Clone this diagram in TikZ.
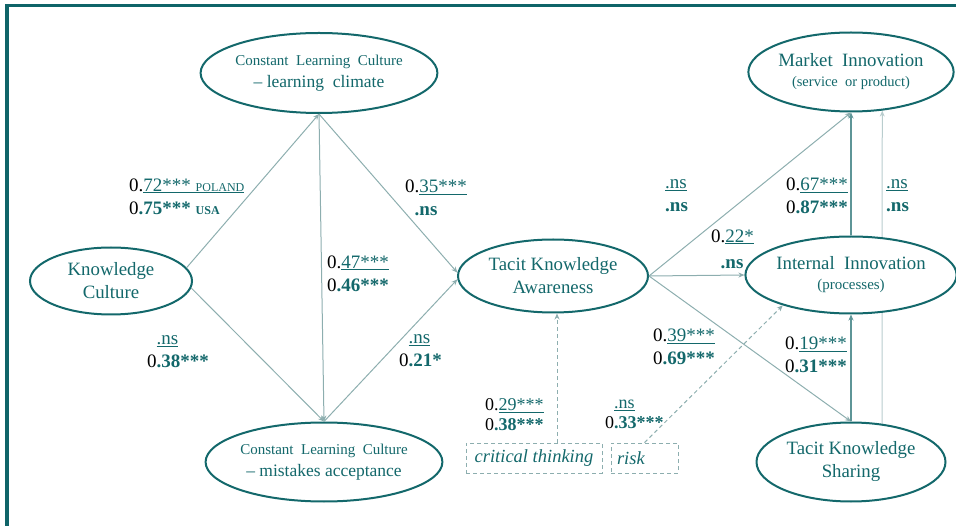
\documentclass[tikz,border=0pt]{standalone}
\usepackage{fontspec}
\setmainfont{Liberation Serif}
\usetikzlibrary{arrows.meta,shapes.geometric,calc,backgrounds}
\definecolor{tl}{HTML}{13686B}
\definecolor{fr}{HTML}{0F6468}
\definecolor{ar}{HTML}{8DAEAF}
\definecolor{ard}{HTML}{5E9597}
\definecolor{arl}{HTML}{B9CDCE}
\newcommand\zr{{\color{black}0}}
\newcommand\ul[1]{{\color{tl}\underline{#1}}}
\newcommand\bd[1]{{\color{tl}\bfseries #1}}
\newcommand\smallfs{\fontsize{12}{12}\selectfont}
\begin{document}
\begin{tikzpicture}[x=1pt,y=-1pt,
  ell/.style={ellipse,draw=tl,line width=2,fill=white,text=tl,inner sep=0,align=center,
    font=\fontsize{18.8}{22}\selectfont},
  arr/.style={draw=ar,line width=1,-{Stealth[length=6,width=5]}},
  arrd/.style={draw=ard,line width=1.1,-{Stealth[length=6,width=5]}},
  arrl/.style={draw=arl,line width=1,-{Stealth[length=6,width=5]}},
  darr/.style={draw=ar,line width=1,dash pattern=on 4 off 3,-{Stealth[length=6,width=5]}},
  dbox/.style={draw=ar,line width=0.9,dash pattern=on 4 off 3,text=tl,inner sep=0,
    font=\fontsize{18.5}{22}\selectfont\itshape,minimum height=30},
  lab/.style={anchor=west,inner sep=0,align=left,font=\fontsize{19}{23}\selectfont},
  labs/.style={anchor=west,inner sep=0,align=left,font=\fontsize{18}{20}\selectfont}]
\useasboundingbox (0,0) rectangle (956,526);
% frame
\draw[fr,line width=3.4] (6.8,526) -- (6.8,5.6) -- (956,5.6);

% ellipses
\node[ell,minimum width=186,minimum height=80] (LC) at (319,73)
  {{\fontsize{15}{20}\selectfont Constant\ \ Learning\ \ Culture}\\[0pt]{\fontsize{17.5}{20}\selectfont -- learning\ \ climate}};
\node[ell,minimum width=162,minimum height=67] (KC) at (111,281) {Knowledge\\[1pt]Culture};
\node[ell,minimum width=188,minimum height=79] (MA) at (324,462)
  {{\fontsize{15}{20}\selectfont Constant\ \ Learning\ \ Culture}\\[0pt]{\fontsize{17.5}{20}\selectfont -- mistakes acceptance}};
\node[ell,minimum width=190,minimum height=73] (TKA) at (553,276) {Tacit Knowledge\\[1pt]Awareness};
\node[ell,minimum width=189,minimum height=79] (MI) at (851,72)
  {Market\ \ Innovation\\[-2pt]{\fontsize{14.5}{18}\selectfont (service\ \ or product)}};
\node[ell,minimum width=189,minimum height=77] (II) at (851,275)
  {Internal\ \ Innovation\\[-2pt]{\fontsize{15}{18}\selectfont (processes)}};
\node[ell,minimum width=189,minimum height=79] (TKS) at (851,462) {Tacit Knowledge\\[1pt]Sharing};

% dashed boxes
\node[dbox,minimum width=136] (ct) at (534,458) {critical thinking};
\node[dbox,minimum width=67,text width=55,align=left] (rk) at (644.5,458) {risk};

% connectors
\draw[arr] (KC.10) -- (LC.south);
\draw[arr] (KC.-5) -- (MA.north);
\draw[arr] (LC.south) -- (MA.north);
\draw[arr] (LC.south) -- (TKA.178);
\draw[arr] (MA.north) -- (TKA.182);
\draw[arr] (TKA.east) -- (MI.south);
\draw[arr] (TKA.east) -- (II.west);
\draw[arr] (TKA.east) -- (TKS.north);
\draw[arrd] (II.north) -- (MI.south);
\draw[arrd] (TKS.north) -- (II.south);
\begin{pgfonlayer}{background}
\draw[arrl] (TKS.51.3) -- (MI.-51.3);
\end{pgfonlayer}
\coordinate (ctTop) at ($(ct.north)+(23,0)$);
\draw[darr] (ctTop) -- (ctTop |- TKA.south);
\draw[darr] (rk.north) -- (II.204);

% labels
\node[lab] (l1) at (129,196.5) {\zr.\ul{72*** {\smallfs POLAND}}\\\zr\bd{.75***} {\color{tl}\bfseries\smallfs USA}};
\node[lab] (l2) at (405,197.5) {\zr.\ul{35***}\\\phantom{0}\bd{.ns}};
\node[lab] (l3) at (327,273.5) {\zr.\ul{47***}\\\zr\bd{.46***}};
\node[lab] (l4) at (147,350) {\phantom{0}\ul{.ns}\\\zr\bd{.38***}};
\node[lab] (l5) at (399,349) {\phantom{0}\ul{.ns}\\\zr\bd{.21*}};
\node[lab] (l6) at (665,195.5) {\ul{.ns}\\\bd{.ns}};
\node[lab,font=\fontsize{19}{26}\selectfont] (l7) at (711,249) {\zr.\ul{22*}\\\phantom{0}\bd{.ns}};
\node[lab] (l8) at (786,195.5) {\zr.\ul{67***}\\\zr\bd{.87***}};
\node[lab] (l9) at (886,195.5) {\ul{.ns}\\\bd{.ns}};
\node[lab] (l10) at (653,346.5) {\zr.\ul{39***}\\\zr\bd{.69***}};
\node[lab] (l11) at (785,354.5) {\zr.\ul{19***}\\\zr\bd{.31***}};
\node[labs] (l12) at (485,415) {\zr.\ul{29***}\\\zr\bd{.38***}};
\node[labs] (l13) at (605,413) {\phantom{0}\ul{.ns}\\\zr\bd{.33***}};
\end{tikzpicture}
\end{document}
